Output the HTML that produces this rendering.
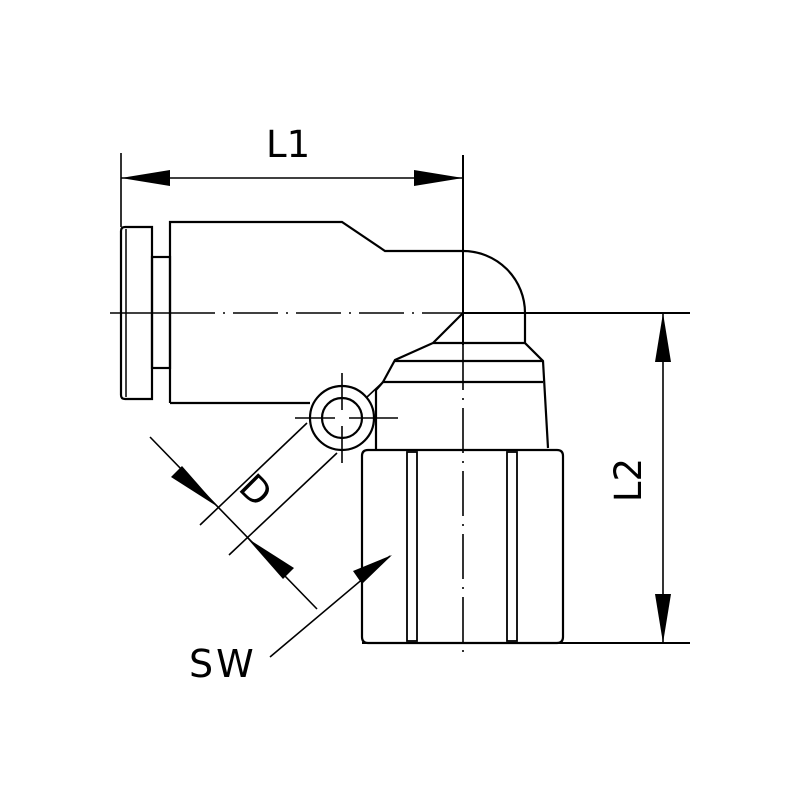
<!DOCTYPE html>
<html><head><style>body{margin:0;background:#fff}</style></head><body>
<svg width="800" height="800" viewBox="0 0 800 800" xmlns="http://www.w3.org/2000/svg" style="display:block">
<rect width="800" height="800" fill="#fff"/>
<g fill="none" stroke="#000" stroke-width="2.2">
<path d="M125,227 H152 V399 H125 Q121,399 121,395 V231 Q121,227 125,227 Z"/>
<line x1="126" y1="229" x2="126" y2="397" stroke-width="1.5"/>
<rect x="152" y="257" width="18" height="111"/>
<path d="M170,403 V222 H342 L385,251 H463 A62,62 0 0 1 525,313 V343 L543,361 L548,448"/>
<path d="M170,403 H310"/>
<path d="M463,313 L433,343 L395,360 L383,382 L376,390 V450"/>
<path d="M433,343 H525"/>
<path d="M395,361 H543"/>
<path d="M383,382 H543"/>
<line x1="383" y1="382" x2="366" y2="398" stroke-width="1.6"/>
<circle cx="342" cy="418" r="32"/>
<circle cx="342" cy="418" r="20"/>
<path d="M368,450 H557 Q563,450 563,456 V637 Q563,643 557,643 H368 Q362,643 362,637 V456 Q362,450 368,450 Z"/>
<rect x="407" y="452" width="10" height="189" stroke-width="1.8"/>
<rect x="507" y="452" width="10" height="189" stroke-width="1.8"/>
</g>
<g stroke="#000" fill="none" stroke-width="1.6">
<line x1="110" y1="313" x2="170" y2="313"/>
<line x1="170" y1="313" x2="463" y2="313" stroke-dasharray="45,8,2,8"/>
<line x1="463" y1="313" x2="690" y2="313" stroke-width="2"/>
<line x1="463" y1="155" x2="463" y2="345" stroke-width="2"/>
<line x1="463" y1="345" x2="463" y2="655" stroke-dasharray="45,8,2,8"/>
<line x1="362" y1="643" x2="690" y2="643" stroke-width="2"/>
<line x1="295" y1="418" x2="335" y2="418"/><line x1="349" y1="418" x2="398" y2="418"/>
<line x1="342" y1="373" x2="342" y2="410"/><line x1="342" y1="426" x2="342" y2="463"/>
<line x1="121" y1="153" x2="121" y2="227"/>
<line x1="121" y1="178" x2="463" y2="178"/>
<line x1="663" y1="313" x2="663" y2="643"/>
<line x1="307" y1="423" x2="200" y2="525"/>
<line x1="337" y1="453" x2="229" y2="555"/>
<line x1="150" y1="437" x2="317" y2="609"/>
<line x1="270" y1="657" x2="390" y2="556"/>
</g>
<g fill="#000">
<polygon points="121,178 170,170 170,186"/>
<polygon points="463,178 414,170 414,186"/>
<polygon points="663,313 655,362 671,362"/>
<polygon points="663,643 655,594 671,594"/>
<polygon points="218,507 182,466 171,477"/>
<polygon points="247,538 283,579 294,568"/>
<polygon points="392,555 353,571 362,584"/>
</g>
<g font-family="'DejaVu Sans','Liberation Sans',sans-serif" fill="#000">
<text x="266" y="157" font-size="37">L1</text>
<text x="189" y="677" font-size="38" letter-spacing="3">SW</text>
<text transform="translate(641,480) rotate(-90)" text-anchor="middle" font-size="37">L2</text>
<text transform="translate(254,492) rotate(45)" text-anchor="middle" dominant-baseline="middle" font-size="36">D</text>
</g>
</svg>
</body></html>
